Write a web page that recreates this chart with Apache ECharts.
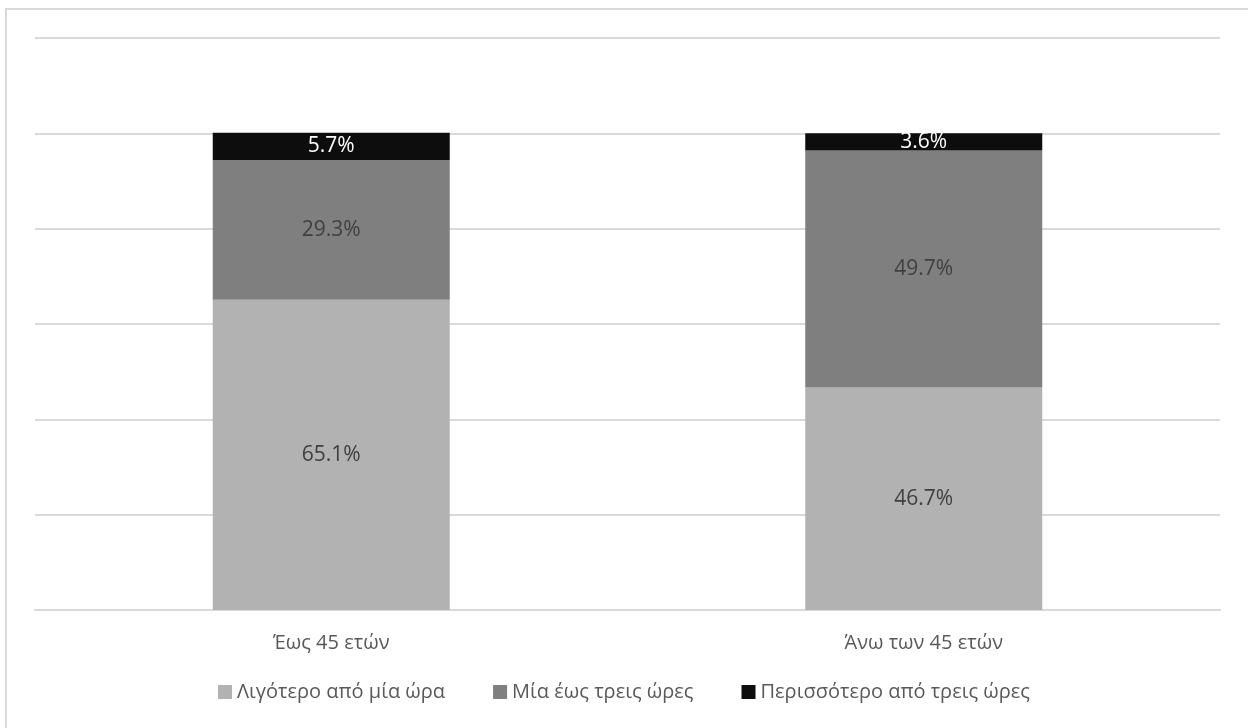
<!DOCTYPE html>
<html>
<head>
<meta charset="utf-8">
<script src="https://cdn.jsdelivr.net/npm/echarts@6/dist/echarts.min.js"></script>
<style>
  html, body { margin: 0; padding: 0; background: #fff; }
  #chart { width: 1248px; height: 728px; }
</style>
</head>
<body>
<div id="chart"></div>
<script>
// Age groups on the x axis
const categories = ['Έως 45 ετών', 'Άνω των 45 ετών'];
// Stacked shares (%) per time band
const lessThanHour = [65.1, 46.7];
const oneToThreeHours = [29.3, 49.7];
const moreThanThreeHours = [5.7, 3.6];
const seriesNames = ['Λιγότερο από μία ώρα', 'Μία έως τρεις ώρες', 'Περισσότερο από τρεις ώρες'];

const FONT = '"Open Sans", "Noto Sans", sans-serif';

const chart = echarts.init(document.getElementById('chart'), null, { renderer: 'canvas' });

function barSeries(name, data, color, labelColor) {
  return {
    name: name,
    type: 'bar',
    stack: 'total',
    data: data,
    barWidth: '40%',
    itemStyle: { color: color },
    label: {
      show: true,
      position: 'inside',
      formatter: p => p.value.toFixed(1) + '%',
      color: labelColor,
      fontFamily: FONT,
      fontSize: 21
    },
    emphasis: { disabled: true }
  };
}

chart.setOption({
  animation: false,
  backgroundColor: '#fff',
  graphic: [{
    type: 'rect',
    shape: { x: 6, y: 9, width: 1400, height: 900 },
    style: { fill: 'none', stroke: '#d9d9d9', lineWidth: 2 },
    silent: true
  }],
  grid: { left: 35, right: 28, top: 38, bottom: 118 },
  legend: {
    bottom: 21,
    left: 'center',
    icon: 'rect',
    itemWidth: 14,
    itemHeight: 14,
    itemGap: 48,
    textStyle: { color: '#595959', fontFamily: FONT, fontSize: 20 },
    data: seriesNames
  },
  xAxis: {
    type: 'category',
    data: categories,
    axisLine: { lineStyle: { color: '#d9d9d9', width: 2 } },
    axisTick: { show: false },
    axisLabel: { color: '#595959', fontFamily: FONT, fontSize: 20, margin: 23 }
  },
  yAxis: {
    type: 'value',
    min: 0,
    max: 120,
    interval: 20,
    axisLabel: { show: false },
    axisLine: { show: false },
    axisTick: { show: false },
    splitLine: { lineStyle: { color: '#d9d9d9', width: 2 } }
  },
  series: [
    barSeries(seriesNames[0], lessThanHour, '#b2b2b2', '#404040'),
    barSeries(seriesNames[1], oneToThreeHours, '#7f7f7f', '#404040'),
    barSeries(seriesNames[2], moreThanThreeHours, '#0d0d0d', '#ffffff')
  ]
});
</script>
</body>
</html>
